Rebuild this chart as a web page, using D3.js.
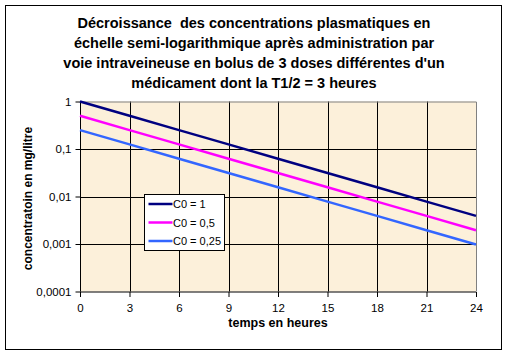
<!DOCTYPE html>
<html><head><meta charset="utf-8">
<script src="https://cdn.jsdelivr.net/npm/d3@7"></script>
<style>body{margin:0;background:#fff}svg{display:block}text{font-family:"Liberation Sans",Arial,sans-serif}</style>
</head><body><svg id="c" width="508" height="355"></svg>
<script>
const titleLines = ["Décroissance  des concentrations plasmatiques en","échelle semi-logarithmique après administration par","voie intraveineuse en bolus de 3 doses différentes d'un","médicament dont la T1/2 = 3 heures"];
const hours = [0,3,6,9,12,15,18,21,24];
const c0_1 = [1,0.5,0.25,0.125,0.0625,0.03125,0.015625,0.0078125,0.00390625];
const c0_05 = [0.5,0.25,0.125,0.0625,0.03125,0.015625,0.0078125,0.00390625,0.001953125];
const c0_025 = [0.25,0.125,0.0625,0.03125,0.015625,0.0078125,0.00390625,0.001953125,0.0009765625];
const seriesNames = ["C0 = 1","C0 = 0,5","C0 = 0,25"];
const colors = ["#000080","#FF00FF","#3366FF"];
const yTicks = [1,0.1,0.01,0.001,0.0001];
const yTickLabels = ["1","0,1","0,01","0,001","0,0001"];
const xTicks = [0,3,6,9,12,15,18,21,24];

const svg = d3.select("#c");
svg.append("rect").attr("x",5.5).attr("y",5.5).attr("width",496).attr("height",344).attr("fill","#fff").attr("stroke","#000").attr("stroke-width",1);

svg.append("g").selectAll("text").data(titleLines).join("text")
  .attr("x",254).attr("y",(d,i)=>28+i*20).attr("text-anchor","middle")
  .style("white-space","pre")
  .attr("font-size",14.5).attr("font-weight","bold").text(d=>d);

const L=80,R=476,T=101.5,B=291.5;
const x = d3.scaleLinear().domain([0,24]).range([L,R]);
const y = d3.scaleLog().domain([0.0001,1]).range([B,T]);

svg.append("rect").attr("x",L).attr("y",T).attr("width",R-L).attr("height",B-T).attr("fill","#FCF0DA");
// gridlines
svg.append("g").selectAll("line").data(yTicks.slice(1,4)).join("line")
  .attr("x1",L).attr("x2",R).attr("y1",d=>Math.round(y(d))+0.5).attr("y2",d=>Math.round(y(d))+0.5).attr("stroke","#000");
svg.append("g").selectAll("line").data(xTicks.slice(1,8)).join("line")
  .attr("y1",T).attr("y2",B).attr("x1",d=>Math.round(x(d))+0.5).attr("x2",d=>Math.round(x(d))+0.5).attr("stroke","#000");
// plot border gray top/right
svg.append("path").attr("d",`M${L},${T+0.5}H${R+0.5}V${B}`).attr("fill","none").attr("stroke","#808080");

// axes
const yAxis = d3.axisLeft(y).tickValues(yTicks).tickFormat((d,i)=>yTickLabels[i]).tickSize(5).tickPadding(4);
const gy = svg.append("g").attr("transform",`translate(${L+0.5},0)`).call(yAxis);
const xAxis = d3.axisBottom(x).tickValues(xTicks).tickFormat(d=>d).tickSize(5).tickPadding(7);
const gx = svg.append("g").attr("transform",`translate(0,${B+0.5})`).call(xAxis);
[gy,gx].forEach(g=>{g.selectAll("text").attr("font-size",11.5).attr("font-family","Liberation Sans,Arial,sans-serif").attr("fill","#000");g.selectAll("line,path").attr("stroke","#000");});
gy.select(".domain").attr("d",`M0,${T}V${B}`);
gx.select(".domain").attr("d",`M${L},0H${R}`);

const line = d3.line().x((d,i)=>x(hours[i])).y(d=>y(d));
[c0_1,c0_05,c0_025].forEach((s,k)=>{
  svg.append("path").datum(s).attr("d",line).attr("fill","none").attr("stroke",colors[k]).attr("stroke-width",2.5);
});

// axis titles
svg.append("text").attr("x",278).attr("y",327).attr("text-anchor","middle").attr("font-size",12.5).attr("font-weight","bold").text("temps en heures");
svg.append("text").attr("transform",`translate(32,${(T+B)/2+2}) rotate(-90)`).attr("text-anchor","middle").attr("font-size",12).attr("font-weight","bold").text("concentratoin en mg/litre");

// legend
const lg = svg.append("g").attr("transform","translate(144.5,194.5)");
lg.append("rect").attr("width",80).attr("height",56).attr("fill","#fff").attr("stroke","#000");
seriesNames.forEach((n,i)=>{
  const yy = 9.5+i*18.5;
  lg.append("line").attr("x1",4).attr("x2",28).attr("y1",yy).attr("y2",yy).attr("stroke",colors[i]).attr("stroke-width",2.5);
  lg.append("text").attr("x",28.5).attr("y",yy+4).attr("font-size",11).text(n);
});
</script></body></html>
